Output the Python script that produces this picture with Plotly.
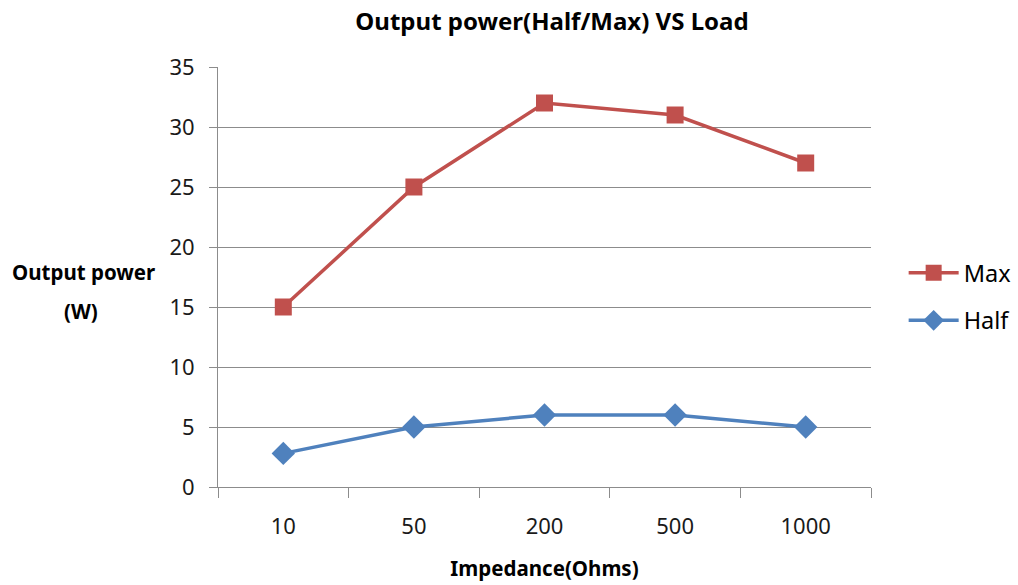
import plotly.graph_objects as go

impedance = ["10", "50", "200", "500", "1000"]
max_power = [15, 25, 32, 31, 27]
half_power = [2.8, 5, 6, 6, 5]
y_ticks = [0, 5, 10, 15, 20, 25, 30, 35]

RED = "#C0504D"
BLUE = "#4F81BD"
FONT = "Noto Sans"
GRID = "#8C8C8C"

fig = go.Figure()
fig.add_trace(go.Scatter(
    x=impedance, y=max_power, name="Max", mode="lines+markers",
    line=dict(color=RED, width=3.5),
    marker=dict(symbol="square", size=17, color=RED),
    legendgroup="max",
))
fig.add_trace(go.Scatter(
    x=impedance, y=half_power, name="Half", mode="lines+markers",
    line=dict(color=BLUE, width=3.5),
    marker=dict(symbol="diamond", size=18, color=BLUE),
    legendgroup="half",
))

fig.update_layout(
    width=1018, height=585,
    margin=dict(l=218, r=147, t=67, b=98, autoexpand=False),
    paper_bgcolor="white", plot_bgcolor="white",
    font=dict(family=FONT, size=22, color="#1a1a1a"),
    title=dict(
        text="<b>Output power(Half/Max) VS Load</b>",
        x=552 / 1018, xanchor="center", y=1 - 22 / 585, yanchor="middle",
        font=dict(family=FONT, size=24, color="black"),
    ),
    showlegend=True,
    legend=dict(
        x=1.05, xanchor="left", y=(487 - 297) / 420, yanchor="middle",
        font=dict(family=FONT, size=23.5, color="black"),
        tracegroupgap=14, itemwidth=50,
        bgcolor="rgba(0,0,0,0)",
    ),
    xaxis=dict(
        type="category", range=[-0.5, 4.5], automargin=False,
        tickson="boundaries", ticks="outside", ticklen=10, tickcolor=GRID,
        showline=True, linecolor=GRID, linewidth=1,
        showgrid=False, zeroline=False,
        ticklabelstandoff=20,
        title=dict(text="<b>Impedance(Ohms)</b>", standoff=22,
                   font=dict(family=FONT, size=20.5, color="black")),
    ),
    yaxis=dict(
        range=[0, 35], tickvals=y_ticks, automargin=False,
        ticks="outside", ticklen=8, tickcolor=GRID,
        showline=True, linecolor=GRID, linewidth=1,
        showgrid=True, gridcolor=GRID, gridwidth=1,
        zeroline=False, ticklabelstandoff=10,
    ),
)

# y-axis title, written horizontally on two lines
for text, ypix, xpix in [("<b>Output power</b>", 272, 83), ("<b>(W)</b>", 311, 81)]:
    fig.add_annotation(
        text=text, xref="paper", yref="paper",
        x=-(218 - xpix) / 653, y=(487 - ypix) / 420,
        xanchor="center", yanchor="middle", showarrow=False,
        font=dict(family=FONT, size=20.5, color="black"),
    )

fig.write_html("out.html")
